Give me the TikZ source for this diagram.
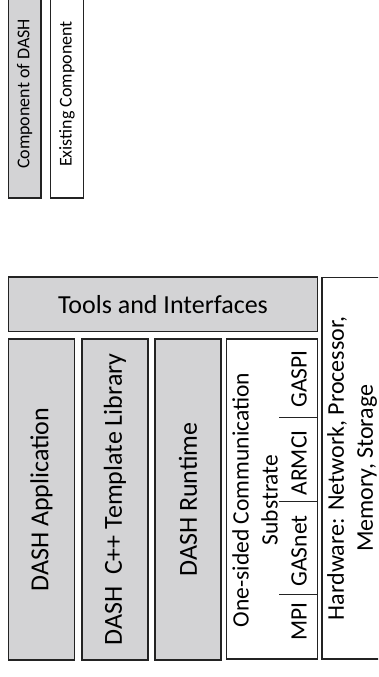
\documentclass[tikz,border=0pt]{standalone}
\usepackage{fontspec}
\setmainfont{Carlito}
\usetikzlibrary{positioning}
\definecolor{dashgray}{RGB}{211,211,213}
\definecolor{edgecol}{RGB}{35,35,35}

\begin{document}
\begin{tikzpicture}[
  x=1pt,y=1pt,
  layer/.style={draw=edgecol,line width=1.4pt,inner sep=0pt,align=center,font=\fontsize{26}{31}\selectfont},
  dashlayer/.style={layer,fill=dashgray},
  extlayer/.style={layer,fill=white},
  col/.style={rotate=90,minimum width=321pt,minimum height=66pt},
  legend/.style={rotate=90,minimum width=208pt,minimum height=32.5pt,font=\fontsize{18}{22}\selectfont},
  ann/.style={rotate=90,inner sep=0pt,align=center,font=\fontsize{23.5}{29}\selectfont},
  sep/.style={draw=edgecol,line width=1pt}
]
\useasboundingbox (0,0) rectangle (378,-677);
\clip (0,0) rectangle (378,-677);

% legend
\node[dashlayer,legend] (legdash) at (24.75,-94) {Component of DASH};
\node[extlayer,legend]  (legext)  at (67,-94)    {Existing Component};

% stack
\node[dashlayer,minimum width=309pt,minimum height=54.5pt] (tools) at (163,-304.25) {Tools and Interfaces};
\node[dashlayer,col] (app)  at (41.5,-499.5)  {DASH Application};
\node[dashlayer,col] (tmpl) at (114.85,-499.5) {DASH~~C++ Template Library};
\node[dashlayer,col] (rt)   at (188,-499.5)   {DASH Runtime};
\node[extlayer,rotate=90,minimum width=320pt,minimum height=90.8pt] (comm) at (271.9,-499) {};
\node[extlayer,rotate=90,minimum width=381.5pt,minimum height=60pt,font=\fontsize{24}{29}\selectfont] (hw) at (352,-468.25)
  {Hardware: Network, Processor,\\Memory, Storage};

% one-sided substrate
\node[ann] (substrate) at (255,-500) {One-sided Communication\\Substrate};
\node[ann] (mpi)    at (299,-621.5) {MPI};
\node[ann] (gasnet) at (299,-551)   {GASnet};
\node[ann] (armci)  at (299,-463)   {ARMCI};
\node[ann] (gaspi)  at (299,-379)   {GASPI};
\foreach \y in {417.3,501,594.7}
  \draw[sep] (279,-\y) -- (317.3,-\y);
\end{tikzpicture}
\end{document}
